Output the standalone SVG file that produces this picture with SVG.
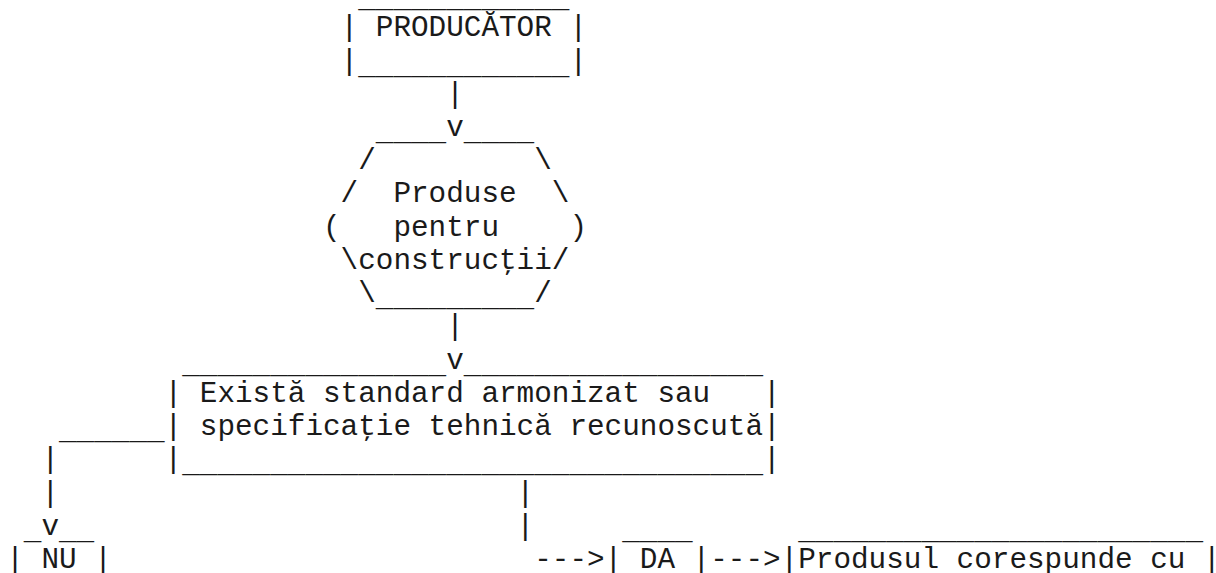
<svg xmlns="http://www.w3.org/2000/svg" width="1216" height="573" viewBox="0 0 1216 573" xml:space="preserve">
<style>
text{font-family:"Liberation Mono","Courier New",monospace;font-size:29.33px;fill:#1a1a1a;white-space:pre}
</style>
<rect width="1216" height="573" fill="#fff"/>
<g id="producator">
<text x="358.2" y="7.0">____________</text>
<text x="340.6" y="36.2">| PRODUCĂTOR |</text>
<text x="340.6" y="69.5">|<tspan dy="4">____________</tspan><tspan dy="-4">|</tspan></text>
</g>
<g id="produse">
<text x="375.8" y="139.9">____</text>
<text x="463.8" y="139.9">____</text>
<text x="358.2" y="169.2">/         \</text>
<text x="340.6" y="202.4">/  Produse  \</text>
<text x="323.0" y="235.6">(   pentru    )</text>
<text x="340.6" y="268.8">\construcţii/</text>
<text x="358.2" y="302.1">\<tspan dy="4">_________</tspan><tspan dy="-4">/</tspan></text>
</g>
<g id="exista">
<text x="182.2" y="372.5">_______________</text>
<text x="463.8" y="372.5">_________________</text>
<text x="164.6" y="401.8">| Există standard armonizat sau   |</text>
<text x="164.6" y="435.0">| specificaţie tehnică recunoscută|</text>
<text x="164.6" y="468.2">|<tspan dy="4">_________________________________</tspan><tspan dy="-4">|</tspan></text>
</g>
<g id="nu">
<text x="23.8" y="538.7">_</text>
<text x="59.0" y="538.7">__</text>
<text x="6.2" y="567.9">| NU |</text>
</g>
<g id="da">
<text x="622.2" y="538.7">____</text>
<text x="604.6" y="567.9">| DA |</text>
</g>
<g id="produsul">
<text x="798.2" y="538.7">_______________________</text>
<text x="780.6" y="567.9">|Produsul corespunde cu |</text>
</g>
<g id="connectors">
<text x="446.2" y="102.7">|</text>
<text x="446.2" y="135.9">v</text>
<text x="446.2" y="335.3">|</text>
<text x="446.2" y="368.5">v</text>
<text x="59.0" y="439.0">______</text>
<text x="41.4" y="468.2">|</text>
<text x="41.4" y="501.5">|</text>
<text x="41.4" y="534.7">v</text>
<text x="516.6" y="501.5">|</text>
<text x="516.6" y="534.7">|</text>
<text x="534.2" y="567.9">---&gt;</text>
<text x="710.2" y="567.9">---&gt;</text>
</g>
</svg>
